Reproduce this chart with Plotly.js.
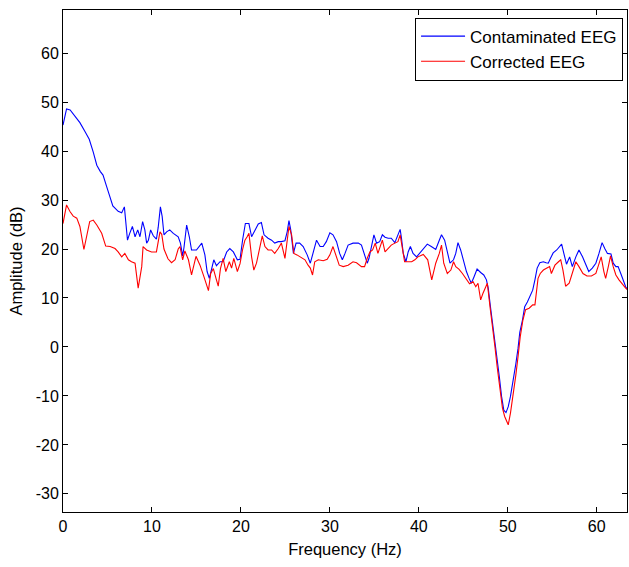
<!DOCTYPE html>
<html>
<head>
<meta charset="utf-8">
<script src="https://cdn.plot.ly/plotly-3.0.1.min.js"></script>
<style>html,body{margin:0;padding:0;background:#fff;}#chart{width:629px;height:567px;}</style>
</head>
<body>
<div id="chart"></div>
<script>
const seriesNames = ["Contaminated EEG", "Corrected EEG"];

const freqContaminated = [0.0,0.4,0.8,1.35,1.9,2.5,2.95,3.4,3.8,4.2,4.5,4.9,5.3,5.6,6.2,6.6,6.9,7.25,7.5,7.8,8.1,8.4,8.65,8.95,9.2,9.4,9.6,9.85,10.15,10.5,10.7,10.95,11.15,11.35,11.65,12.0,12.4,12.95,13.2,13.45,13.6,13.9,14.2,14.45,15.0,15.4,15.6,15.95,16.2,16.45,16.7,16.95,17.25,17.65,18.0,18.4,18.75,19.15,19.6,19.9,20.2,20.5,20.9,21.2,21.6,21.95,22.3,22.6,23.05,23.45,23.8,24.2,24.55,24.95,25.2,25.4,25.6,25.9,26.2,26.6,27.0,27.45,27.8,28.1,28.5,28.9,29.25,29.6,30.0,30.35,30.75,31.1,31.4,31.7,32.05,32.6,33.2,33.55,33.9,34.2,34.4,34.7,34.95,35.25,35.6,35.9,36.2,36.55,36.9,37.3,37.6,37.9,38.05,38.25,38.55,38.8,39.05,39.35,39.75,40.1,40.5,40.95,41.4,41.9,42.3,42.55,42.9,43.2,43.5,43.9,44.15,44.4,44.7,45.0,45.35,45.65,45.9,46.2,46.55,46.95,47.3,47.6,47.8,48.05,48.3,48.55,48.8,49.05,49.3,49.55,49.8,50.05,50.3,50.6,50.9,51.15,51.35,51.65,51.9,52.2,52.5,52.8,53.05,53.3,53.6,54.0,54.3,54.55,54.8,55.1,55.5,55.8,56.05,56.3,56.6,56.95,57.25,57.65,58.0,58.4,58.75,59.1,59.5,59.9,60.25,60.6,60.9,61.2,61.6,61.85,62.15,62.4,62.7,62.95,63.25,63.5];
const ampContaminated = [45.3,48.6,48.4,47.0,45.8,43.9,42.4,39.8,37.1,35.8,35.1,32.8,30.7,28.8,27.7,27.4,28.6,21.8,23.2,24.6,22.5,23.9,22.5,25.6,23.9,21.2,21.8,23.9,22.7,22.0,24.4,28.6,26.6,22.9,23.5,23.9,23.2,22.5,21.2,18.6,20.3,24.9,22.5,19.8,19.8,20.8,21.2,18.8,15.4,14.0,16.1,17.8,16.6,17.4,17.4,19.4,20.1,19.4,17.8,17.9,22.0,25.2,25.2,22.5,23.9,25.1,25.4,22.9,22.2,21.8,21.2,21.5,21.5,21.7,23.5,25.8,23.9,19.1,21.2,21.2,20.5,18.8,17.1,19.1,21.8,20.5,20.5,21.5,23.3,22.9,21.5,19.1,17.8,19.1,20.8,21.2,21.2,20.8,18.8,17.1,18.1,20.5,22.9,21.2,21.5,22.9,22.4,22.2,22.2,21.3,22.5,24.0,22.2,19.1,17.4,19.4,20.5,19.1,18.4,19.1,20.0,21.0,20.5,19.9,21.8,22.9,21.8,19.1,17.1,17.8,19.1,21.3,19.8,17.8,15.4,14.0,13.0,14.3,15.9,15.2,14.7,13.7,12.0,8.2,4.8,1.4,-2.7,-6.1,-10.1,-12.9,-13.4,-12.2,-10.1,-7.2,-3.5,-0.3,3.0,5.5,8.2,9.2,10.3,11.6,13.7,16.1,17.2,17.4,17.2,17.1,18.1,19.2,19.8,20.5,21.0,19.1,16.9,18.4,16.4,18.4,19.8,18.4,16.7,15.4,16.1,17.1,19.1,21.3,20.1,19.1,19.0,17.1,16.4,16.4,15.0,13.7,12.3,11.6];

const freqCorrected = [0.0,0.4,0.8,1.15,1.55,1.9,2.35,2.75,3.0,3.4,3.8,4.35,4.8,5.3,5.85,6.2,6.6,6.95,7.35,7.7,8.1,8.45,8.85,9.0,9.4,9.95,10.5,10.9,11.1,11.35,11.8,12.2,12.6,12.95,13.15,13.45,13.7,14.1,14.45,14.95,15.4,15.85,16.05,16.35,16.6,16.9,17.2,17.45,17.7,18.0,18.3,18.7,18.95,19.2,19.6,19.9,20.2,20.45,20.7,20.9,21.2,21.45,21.75,22.05,22.4,22.7,23.05,23.45,23.8,24.2,24.55,24.95,25.2,25.4,25.7,25.95,26.3,26.7,27.2,27.55,27.8,28.05,28.3,28.7,29.25,29.7,30.0,30.35,30.7,31.05,31.5,32.05,32.6,33.0,33.55,33.9,34.2,34.5,34.8,35.1,35.4,35.6,35.9,36.2,36.55,36.9,37.3,37.65,37.9,38.15,38.4,38.7,39.2,39.55,39.9,40.5,41.0,41.45,41.9,42.3,42.55,42.8,43.2,43.6,43.9,44.15,44.5,44.9,45.35,45.7,46.1,46.4,46.65,46.95,47.2,47.5,47.7,48.0,48.3,48.55,48.8,49.1,49.4,49.65,50.05,50.3,50.6,50.9,51.15,51.4,51.7,52.0,52.4,52.8,53.05,53.2,53.4,53.65,54.0,54.4,54.7,54.9,55.3,55.7,55.95,56.2,56.5,56.9,57.25,57.65,58.0,58.45,58.9,59.4,59.9,60.25,60.5,60.8,61.0,61.3,61.55,61.85,62.15,62.5,62.9,63.25,63.5];
const ampCorrected = [25.2,29.0,27.6,26.7,26.3,24.6,19.9,23.9,25.6,25.9,24.9,23.2,20.6,20.5,20.1,19.4,18.4,19.1,17.8,17.4,17.1,12.0,16.4,20.5,19.8,19.4,19.4,23.5,23.0,20.0,18.0,17.2,17.8,20.0,20.5,17.8,19.6,17.8,14.7,18.5,16.7,14.3,13.0,11.5,15.0,16.0,14.0,12.4,16.0,18.1,15.4,17.4,16.1,18.1,15.4,17.0,20.0,21.8,22.5,23.2,18.4,15.7,17.1,19.8,22.7,20.5,19.8,19.8,19.1,20.1,21.2,18.1,21.2,24.6,22.9,19.1,18.8,18.4,17.8,16.7,16.1,14.7,17.4,17.8,17.6,17.9,18.8,20.5,18.4,16.7,16.4,16.7,17.4,17.2,16.4,16.4,18.1,19.4,19.8,21.2,19.1,20.1,21.8,19.4,20.1,20.8,21.2,21.5,22.9,20.5,17.4,17.4,17.4,17.8,18.4,18.9,17.8,13.7,17.1,19.1,20.8,17.1,15.0,15.7,17.4,16.4,15.9,15.0,13.7,12.9,13.3,12.3,13.0,9.6,10.9,12.3,13.0,8.2,4.1,0.1,-4.0,-8.8,-12.5,-14.2,-15.9,-13.5,-10.1,-5.8,-2.0,2.1,5.5,7.6,7.9,8.6,8.6,11.6,14.0,15.0,15.7,16.1,16.4,15.0,16.7,17.4,17.8,15.7,12.4,13.0,15.0,17.4,16.4,15.0,14.5,14.5,15.0,17.1,18.4,15.4,14.0,16.4,18.6,16.4,14.7,13.7,12.7,12.0,11.6];

const xTickVals = [0,10,20,30,40,50,60];
const xTickText = ["0","10","20","30","40","50","60"];
const yTickVals = [-30,-20,-10,0,10,20,30,40,50,60];
const yTickText = ["-30","-20","-10","0","10","20","30","40","50","60"];
const xTitle = "Frequency (Hz)";
const yTitle = "Amplitude (dB)";

const FONT = "'Liberation Sans', Arial, sans-serif";

const traces = [
  {x: freqContaminated, y: ampContaminated, name: seriesNames[0], type: "scatter", mode: "lines",
   line: {color: "#0000ff", width: 1.1}},
  {x: freqCorrected, y: ampCorrected, name: seriesNames[1], type: "scatter", mode: "lines",
   line: {color: "#ff0000", width: 1.1}}
];

const axisCommon = {
  showgrid: false, zeroline: false, showline: true, linecolor: "#000", linewidth: 1,
  mirror: "ticks", ticks: "inside", ticklen: 5, tickwidth: 1, tickcolor: "#000",
  tickfont: {family: FONT, size: 16, color: "#000"}
};

const layout = {
  width: 629, height: 567,
  margin: {l: 63, r: 2, t: 10, b: 55},
  paper_bgcolor: "#fff", plot_bgcolor: "#fff",
  showlegend: true,
  legend: {x: 0.993, y: 0.985, xanchor: "right", yanchor: "top", bgcolor: "#fff",
    bordercolor: "#000", borderwidth: 1, font: {family: FONT, size: 17, color: "#000"},
    tracegroupgap: 0, itemwidth: 44},
  xaxis: Object.assign({}, axisCommon, {range: [0, 63.4], tickvals: xTickVals, ticktext: xTickText,
    title: {text: xTitle, font: {family: FONT, size: 16.5, color: "#000"}, standoff: 9}}),
  yaxis: Object.assign({}, axisCommon, {range: [-33.7, 68.8], tickvals: yTickVals, ticktext: yTickText,
    title: {text: yTitle, font: {family: FONT, size: 16.5, color: "#000"}, standoff: 8}}),
  font: {family: FONT, color: "#000"}
};

Plotly.newPlot("chart", traces, layout, {displayModeBar: false, staticPlot: true});
</script>
</body>
</html>
